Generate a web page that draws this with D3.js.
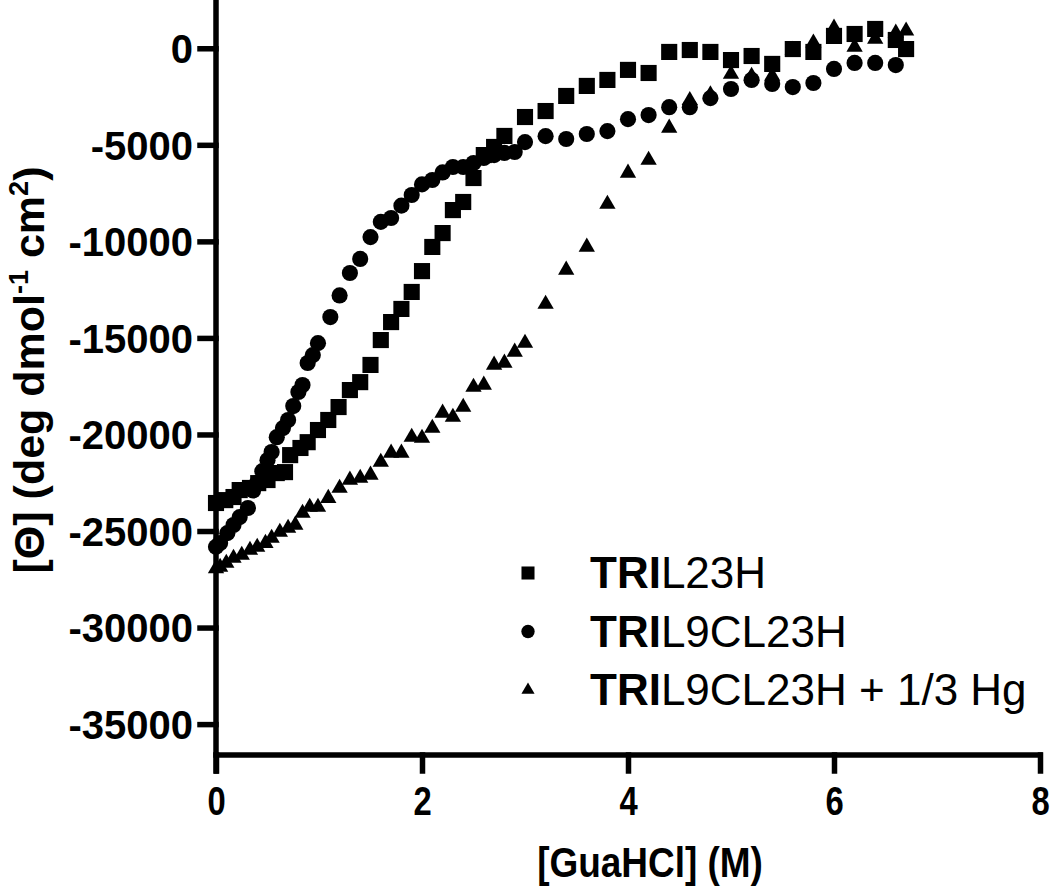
<!DOCTYPE html>
<html>
<head>
  <meta charset="utf-8">
  <style type="text/css">
    body { margin: 0; background: #fff; }
    text { font-family: "Liberation Sans", Arial, sans-serif; fill: #000; }
  </style>
  <script src="https://d3js.org/d3.v7.min.js"></script>
</head>
<body>
  <div id="chart"></div>
  <script type="text/javascript">
    // [GuaHCl] (M) and mean residue ellipticity for each sample
    var guaL23H = [0, 0.09, 0.17, 0.23, 0.33, 0.41, 0.5, 0.59, 0.67, 0.72, 0.82, 0.89, 0.99, 1.09, 1.19, 1.3, 1.4, 1.5, 1.6, 1.7,
                   1.8, 1.9, 2.0, 2.1, 2.2, 2.3, 2.4, 2.5, 2.6, 2.7, 2.8, 3.0, 3.2, 3.4, 3.6, 3.8, 4.0, 4.2, 4.4, 4.6,
                   4.8, 5.0, 5.2, 5.4, 5.6, 5.8, 6.0, 6.2, 6.4, 6.6, 6.7];
    var thetaL23H = [-23550, -23400, -23240, -22880, -22770, -22520, -22360, -22000, -21950, -21070, -20700, -20400, -19770,
                     -19250, -18580, -17700, -17290, -16400, -15110, -14180, -13500, -12620, -11540, -10290, -9570, -8380,
                     -7960, -6720, -5530, -5110, -4540, -3560, -3250, -2470, -1950, -1640, -1120, -1280, -190, -90, -190,
                     -610, -400, -810, -40, -190, 640, 740, 1000, 430, -40];

    var guaL9C = [0, 0.04, 0.11, 0.17, 0.23, 0.31, 0.36, 0.4, 0.45, 0.5, 0.54, 0.59, 0.65, 0.7, 0.75, 0.8, 0.84, 0.89, 0.94, 0.99,
                  1.11, 1.2, 1.3, 1.4, 1.5, 1.6, 1.7, 1.8, 1.9, 2.0, 2.1, 2.2, 2.3, 2.4, 2.5, 2.6, 2.7, 2.8, 2.9, 3.0,
                  3.2, 3.4, 3.6, 3.8, 4.0, 4.2, 4.4, 4.6, 4.8, 5.0, 5.2, 5.4, 5.6, 5.8, 6.0, 6.2, 6.4, 6.6];
    var thetaL9C = [-25820, -25620, -25110, -24690, -24280, -23810, -22900, -22500, -21900, -21330, -20910, -20140, -19670,
                    -19250, -18530, -17800, -17440, -16300, -15890, -15270, -13920, -12800, -11640, -10910, -9780, -8990,
                    -8790, -8150, -7600, -7050, -6820, -6430, -6150, -6150, -5940, -5680, -5530, -5420, -5370, -4860,
                    -4550, -4700, -4440, -4290, -3670, -3460, -3050, -3050, -2580, -2110, -1640, -1850, -2010, -1800,
                    -1070, -760, -760, -870];

    var guaL9CHg = [0, 0.04, 0.1, 0.17, 0.25, 0.33, 0.4, 0.48, 0.54, 0.62, 0.7, 0.77, 0.84, 0.91, 0.99, 1.09, 1.2, 1.3, 1.4, 1.5,
                    1.6, 1.7, 1.8, 1.9, 2.0, 2.1, 2.2, 2.3, 2.4, 2.5, 2.6, 2.7, 2.8, 2.9, 3.0, 3.2, 3.4, 3.6, 3.8, 4.0,
                    4.2, 4.4, 4.6, 4.8, 5.0, 5.2, 5.4, 5.6, 5.8, 6.0, 6.2, 6.4, 6.6, 6.7];
    var thetaL9CHg = [-26950, -26870, -26660, -26400, -26250, -25990, -25830, -25630, -25370, -25060, -24850, -24690, -24070,
                      -23760, -23760, -23300, -22780, -22360, -22260, -22100, -21430, -20960, -20960, -20140, -20190,
                      -19670, -18890, -19100, -18580, -17550, -17440, -16400, -16300, -15730, -15270, -13250, -11480,
                      -10290, -8070, -6460, -5790, -4130, -2700, -2400, -1340, -1440, -1440, -100, 280, 1050, 70, 480,
                      790, 900];

    var xTicks = [0, 2, 4, 6, 8];
    var yTicks = [0, -5000, -10000, -15000, -20000, -25000, -30000, -35000];
    var seriesNames = ["L23H", "L9CL23H", "L9CL23H + 1/3 Hg"];

    var width = 1050, height = 893;

    var svg = d3.select("#chart").append("svg")
      .attr("width", width)
      .attr("height", height);

    var x = d3.scaleLinear().domain([0, 8]).range([216, 1040]);
    var y = d3.scaleLinear().domain([-36600, 2500]).range([755, 0]);

    // axes (plain hyphen for negatives, like the original)
    var yAxis = svg.append("g")
      .attr("transform", "translate(216,0)")
      .call(d3.axisLeft(y).tickValues(yTicks).tickSize(16).tickPadding(7).tickFormat(function(d) { return String(d); }));
    yAxis.select(".domain").attr("d", "M0,0V771").attr("stroke-width", 5.5);
    yAxis.selectAll(".tick line").attr("stroke-width", 5.5);
    yAxis.selectAll(".tick text")
      .style("font-size", "40px").style("font-weight", "bold")
      .attr("dy", "0.36em");

    var xAxis = svg.append("g")
      .attr("transform", "translate(0,755)")
      .call(d3.axisBottom(x).tickValues(xTicks).tickSize(16).tickPadding(8));
    xAxis.select(".domain").attr("d", "M216,0H1040").attr("stroke-width", 5.5);
    xAxis.selectAll(".tick line").attr("stroke-width", 5.5);
    xAxis.selectAll(".tick text")
      .style("font-size", "40px").style("font-weight", "bold")
      .attr("y", 60).attr("dy", null)
      .attr("transform", "scale(0.82,1)");
    svg.selectAll(".domain, .tick line").attr("stroke", "#000").attr("stroke-linecap", "square");

    // axis titles
    svg.append("text")
      .attr("transform", "translate(650,877) scale(0.88,1)")
      .attr("text-anchor", "middle")
      .style("font-size", "42px").style("font-weight", "bold")
      .text("[GuaHCl] (M)");

    var yTitle = svg.append("text")
      .attr("transform", "translate(44,370) rotate(-90)")
      .attr("text-anchor", "middle")
      .style("font-size", "43px").style("font-weight", "bold");
    yTitle.append("tspan").text("[\u0398] (deg dmol");
    yTitle.append("tspan").attr("dy", -16).style("font-size", "27px").text("-1");
    yTitle.append("tspan").attr("dy", 16).text(" cm");
    yTitle.append("tspan").attr("dy", -16).style("font-size", "27px").text("2");
    yTitle.append("tspan").attr("dy", 16).text(")");

    // data points
    function plot(gua, theta, symbolType, size) {
      svg.append("g").selectAll("path")
        .data(d3.zip(gua, theta))
        .join("path")
          .attr("transform", function(d) { return "translate(" + x(d[0]) + "," + y(d[1]) + ")"; })
          .attr("d", d3.symbol().type(symbolType).size(size))
          .attr("fill", "#000");
    }
    plot(guaL9CHg, thetaL9CHg, d3.symbolTriangle, 115);
    plot(guaL9C, thetaL9C, d3.symbolCircle, 205);
    plot(guaL23H, thetaL23H, d3.symbolSquare, 260);

    // legend
    var legendSymbols = [[d3.symbolSquare, 170], [d3.symbolCircle, 140], [d3.symbolTriangle, 75]];
    var legend = svg.append("g").selectAll("g")
      .data(seriesNames)
      .join("g")
        .attr("transform", function(d, i) { return "translate(528," + (573 + i * 58.5) + ")"; });
    legend.append("path")
      .attr("d", function(d, i) { return d3.symbol().type(legendSymbols[i][0]).size(legendSymbols[i][1])(); })
      .attr("fill", "#000");
    var legendText = legend.append("text")
      .attr("x", 62)
      .attr("y", 15)
      .style("font-size", "44px");
    legendText.append("tspan").style("font-weight", "bold").text("TRI");
    legendText.append("tspan").text(function(d) { return d; });
  </script>
</body>
</html>
